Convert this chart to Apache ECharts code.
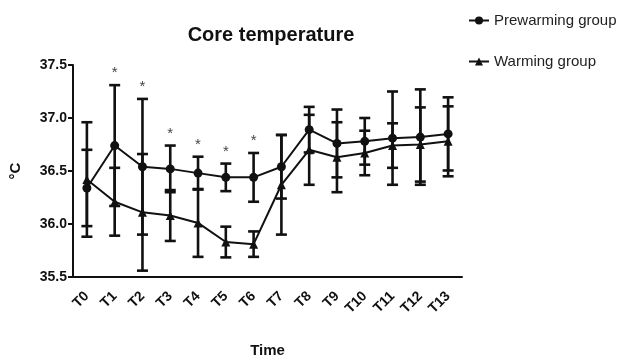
<!DOCTYPE html>
<html>
<head>
<meta charset="utf-8">
<script src="https://cdn.jsdelivr.net/npm/echarts@6/dist/echarts.min.js"></script>
<style>
  html, body { margin: 0; padding: 0; background: #fff; }
  #chart { width: 622px; height: 359px; }
</style>
</head>
<body>
<div id="chart"></div>
<script>
// time points
var timePoints = ["T0", "T1", "T2", "T3", "T4", "T5", "T6", "T7", "T8", "T9", "T10", "T11", "T12", "T13"];
// means and SD
var prewarmMean = [36.34, 36.74, 36.54, 36.52, 36.48, 36.44, 36.44, 36.54, 36.89, 36.76, 36.78, 36.81, 36.82, 36.85];
var prewarmSd = [0.36, 0.57, 0.64, 0.22, 0.155, 0.13, 0.23, 0.30, 0.215, 0.32, 0.22, 0.44, 0.45, 0.345];
var warmMean = [36.42, 36.21, 36.11, 36.08, 36.01, 35.83, 35.81, 36.37, 36.70, 36.63, 36.67, 36.74, 36.75, 36.78];
var warmSd = [0.54, 0.32, 0.55, 0.24, 0.32, 0.145, 0.12, 0.47, 0.33, 0.33, 0.21, 0.21, 0.35, 0.33];
// time points marked as significant
var starIdx = [1, 2, 3, 4, 5, 6];

var FONT = "'Liberation Sans', Arial, sans-serif";

function barData(mean, sd) {
  return mean.map(function (m, i) {
    return [i, m - sd[i], m + sd[i]];
  });
}

function errorBarItem(params, api) {
  var top = api.coord([api.value(0), api.value(2)]);
  var bot = api.coord([api.value(0), api.value(1)]);
  var w = 5.5;
  var style = { stroke: "#111", lineWidth: 2.6 };
  return {
    type: "group",
    children: [
      { type: "line", shape: { x1: top[0], y1: top[1], x2: bot[0], y2: bot[1] }, style: style },
      { type: "line", shape: { x1: top[0] - w, y1: top[1], x2: top[0] + w, y2: top[1] }, style: style },
      { type: "line", shape: { x1: bot[0] - w, y1: bot[1], x2: bot[0] + w, y2: bot[1] }, style: style }
    ]
  };
}

var starData = starIdx.map(function (i) {
  return [i, Math.max(prewarmMean[i] + prewarmSd[i], warmMean[i] + warmSd[i])];
});

var myChart = echarts.init(document.getElementById("chart"));
myChart.setOption({
  animation: false,
  title: {
    text: "Core temperature",
    left: 266,
    textAlign: "center",
    top: 20,
    textStyle: { fontFamily: FONT, fontSize: 20, fontWeight: "bold", color: "#111" }
  },
  legend: {
    orient: "vertical",
    left: 463,
    top: 8,
    itemGap: 26,
    itemWidth: 20,
    itemHeight: 10,
    data: ["Prewarming group", "Warming group"],
    textStyle: { fontFamily: FONT, fontSize: 15, color: "#222" }
  },
  grid: { left: 73, right: 160, top: 65, bottom: 82, outerBoundsMode: "none" },
  xAxis: {
    type: "category",
    data: timePoints,
    name: "Time",
    nameLocation: "middle",
    nameGap: 66,
    nameTextStyle: { fontFamily: FONT, fontSize: 15, fontWeight: "bold", color: "#111" },
    axisLine: { lineStyle: { color: "#111", width: 2 } },
    axisTick: { alignWithLabel: true, length: 6, lineStyle: { color: "#111", width: 2 } },
    axisLabel: { rotate: 45, margin: 17, fontFamily: FONT, fontSize: 14, fontWeight: "bold", color: "#111" },
    splitLine: { show: false }
  },
  yAxis: {
    type: "value",
    min: 35.5,
    max: 37.5,
    interval: 0.5,
    name: "°C",
    nameLocation: "middle",
    nameRotate: 90,
    nameGap: 50,
    nameTextStyle: { fontFamily: FONT, fontSize: 15, fontWeight: "bold", color: "#111" },
    axisLine: { show: true, lineStyle: { color: "#111", width: 2 } },
    axisTick: { show: true, length: 5, lineStyle: { color: "#111", width: 2 } },
    axisLabel: {
      margin: 6,
      fontFamily: FONT,
      fontSize: 14,
      fontWeight: "bold",
      color: "#111",
      formatter: function (v) { return v.toFixed(1); }
    },
    splitLine: { show: false }
  },
  series: [
    {
      type: "custom",
      renderItem: errorBarItem,
      data: barData(prewarmMean, prewarmSd),
      encode: { x: 0, y: [1, 2] },
      z: 1
    },
    {
      type: "custom",
      renderItem: errorBarItem,
      data: barData(warmMean, warmSd),
      encode: { x: 0, y: [1, 2] },
      z: 1
    },
    {
      name: "Prewarming group",
      type: "line",
      data: prewarmMean,
      symbol: "circle",
      symbolSize: 9,
      lineStyle: { color: "#111", width: 2 },
      itemStyle: { color: "#111" },
      z: 3
    },
    {
      name: "Warming group",
      type: "line",
      data: warmMean,
      symbol: "triangle",
      symbolSize: 9,
      lineStyle: { color: "#111", width: 2 },
      itemStyle: { color: "#111" },
      z: 3
    },
    {
      type: "custom",
      data: starData,
      encode: { x: 0, y: 1 },
      renderItem: function (params, api) {
        var p = api.coord([api.value(0), api.value(1)]);
        return {
          type: "text",
          x: p[0],
          y: p[1] - 12,
          style: {
            text: "*",
            fill: "#444",
            font: "15px " + FONT,
            align: "center",
            verticalAlign: "middle"
          }
        };
      },
      z: 4
    }
  ]
});
</script>
</body>
</html>
